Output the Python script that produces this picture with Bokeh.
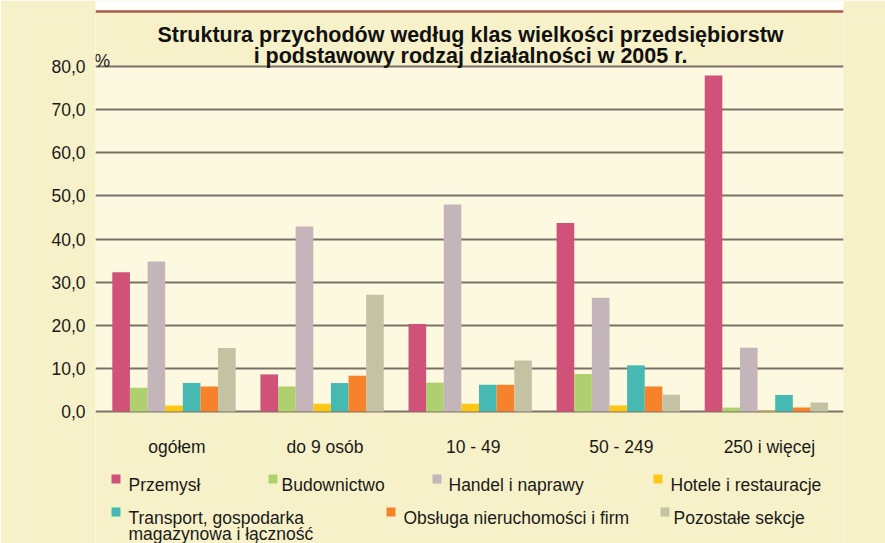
import numpy as np
from bokeh.plotting import figure
from bokeh.models import Range1d, FixedTicker, BoxAnnotation, Label, ColumnDataSource
from bokeh.core.properties import value
from bokeh.embed import file_html
from bokeh.resources import INLINE

# ---------------- data ----------------
categories = ["ogółem", "do 9 osób", "10 - 49", "50 - 249", "250 i więcej"]
series_names = ["Przemysł", "Budownictwo", "Handel i naprawy", "Hotele i restauracje",
                "Transport, gospodarka\nmagazynowa i łączność",
                "Obsługa nieruchomości i firm", "Pozostałe sekcje"]
przemysl = [32.3, 8.6, 20.3, 43.7, 77.9]
budownictwo = [5.5, 5.8, 6.7, 8.7, 0.9]
handel = [34.8, 42.9, 48.0, 26.4, 14.8]
hotele = [1.4, 1.8, 1.8, 1.4, 0.1]
transport = [6.6, 6.6, 6.2, 10.7, 3.8]
obsluga = [5.8, 8.3, 6.2, 5.8, 0.9]
pozostale = [14.7, 27.1, 11.8, 3.9, 2.1]
y_ticks = [0, 10, 20, 30, 40, 50, 60, 70, 80]
y_tick_labels = ["0,0", "10,0", "20,0", "30,0", "40,0", "50,0", "60,0", "70,0", "80,0"]
title_lines = ["Struktura przychodów według klas wielkości przedsiębiorstw",
               "i podstawowy rodzaj działalności w 2005 r."]
unit_label = "%"

# ---------------- styles / layout ----------------
colors = ["#d05278", "#aed06e", "#c4b5ba", "#fcc817", "#46b9b2", "#f6822c", "#c3c3a4"]
PANEL = "#f7f1c9"
PLOT_BG = "#fdf9e1"
GRID = "#7c7069"
BORDER = "#a95f4a"
FONT = "Liberation Sans"
FS = "17.5px"

W, H = 885, 543
FRAME_L, FRAME_R = 95, 843          # page pixels
FRAME_T, FRAME_B = 0, 543
PX_PER_X = 148.1
X_START = -0.53
Y0_PX = 411
PX_PER_Y = 4.3125


def dx(px):
    return X_START + (px - FRAME_L) / PX_PER_X


def dy(py):
    return (Y0_PX - py) / PX_PER_Y


p = figure(width=W, height=H, title=None, x_axis_type=None,
           x_range=Range1d(X_START, dx(FRAME_R)), y_range=Range1d(dy(FRAME_B), dy(FRAME_T)),
           output_backend="svg", toolbar_location=None,
           min_border_left=FRAME_L, min_border_right=W - FRAME_R,
           min_border_top=0, min_border_bottom=0)
p.background_fill_color = PANEL
p.border_fill_color = PANEL
p.outline_line_color = None
p.ygrid.grid_line_color = None

# white strip above the panel and plot area background
p.add_layout(BoxAnnotation(bottom=dy(10), top=dy(0), fill_color="white", fill_alpha=1,
                           line_color=None, level="underlay"))
p.add_layout(BoxAnnotation(bottom=0, top=80, fill_color=PLOT_BG, fill_alpha=1,
                           line_color=None, level="underlay"))

# top border line of the panel
p.hspan(y=[dy(11)], line_color=BORDER, line_width=2.5)

# gridlines
p.hspan(y=y_ticks, line_color=GRID, line_width=2)

# bars
n = len(series_names)
bar_w = 0.119
series_values = [przemysl, budownictwo, handel, hotele, transport, obsluga, pozostale]
gx = np.arange(len(categories))
for j, (vals, col) in enumerate(zip(series_values, colors)):
    src = ColumnDataSource(dict(x=gx + (j - (n - 1) / 2) * bar_w, top=vals))
    p.vbar(x="x", top="top", bottom=0, width=bar_w, source=src,
           fill_color=col, line_color=None)

# y axis
ax = p.yaxis[0]
ax.ticker = FixedTicker(ticks=y_ticks)
ax.major_label_overrides = {t: l for t, l in zip(y_ticks, y_tick_labels)}
ax.axis_line_color = None
ax.major_tick_line_color = None
ax.minor_tick_line_color = None
ax.major_tick_out = 0
ax.major_tick_in = 0
ax.major_label_standoff = 10
ax.major_label_text_font = FONT
ax.major_label_text_font_size = FS
ax.major_label_text_color = "#1a1a1a"

# category labels
p.text(x=gx + 0.02, y=[dy(446.5)] * len(categories), text=categories,
       text_align="center", text_baseline="alphabetic",
       text_font=value(FONT), text_font_size=FS, text_color="#1a1a1a")

# unit label
p.add_layout(Label(x=dx(94), y=dy(60), text=unit_label, text_align="left",
                   text_baseline="alphabetic", text_font=FONT,
                   text_font_size=FS, text_color="#1a1a1a"))

# title
for line, base in zip(title_lines, [34, 55]):
    p.add_layout(Label(x=dx(470), y=dy(base), text=line, text_align="center",
                       text_baseline="alphabetic", text_font=FONT,
                       text_font_size="21.5px", text_font_style="bold",
                       text_color="#111111"))

# legend (manual placement)
leg_sq_left = [111, 268, 432, 653, 111, 386, 660]
leg_txt_left = [128, 281, 448, 670, 128, 403, 673]
leg_base = [484, 484, 484, 484, 517, 517, 517]
LINE_STEP = 16
sq_x, sq_y, tx, ty, tt = [], [], [], [], []
for name, sl, tl, b in zip(series_names, leg_sq_left, leg_txt_left, leg_base):
    sq_x.append(dx(sl + 4.5))
    sq_y.append(dy(b - 5.5))
    for k, ln in enumerate(name.split("\n")):
        tx.append(dx(tl))
        ty.append(dy(b + k * LINE_STEP))
        tt.append(ln)
p.scatter(x=sq_x, y=sq_y, marker="square", size=9, fill_color=colors, line_color=None)
p.text(x=tx, y=ty, text=tt, text_align="left", text_baseline="alphabetic",
       text_font=value(FONT), text_font_size=FS, text_color="#1a1a1a")

open("out.html", "w").write(file_html(p, INLINE))
